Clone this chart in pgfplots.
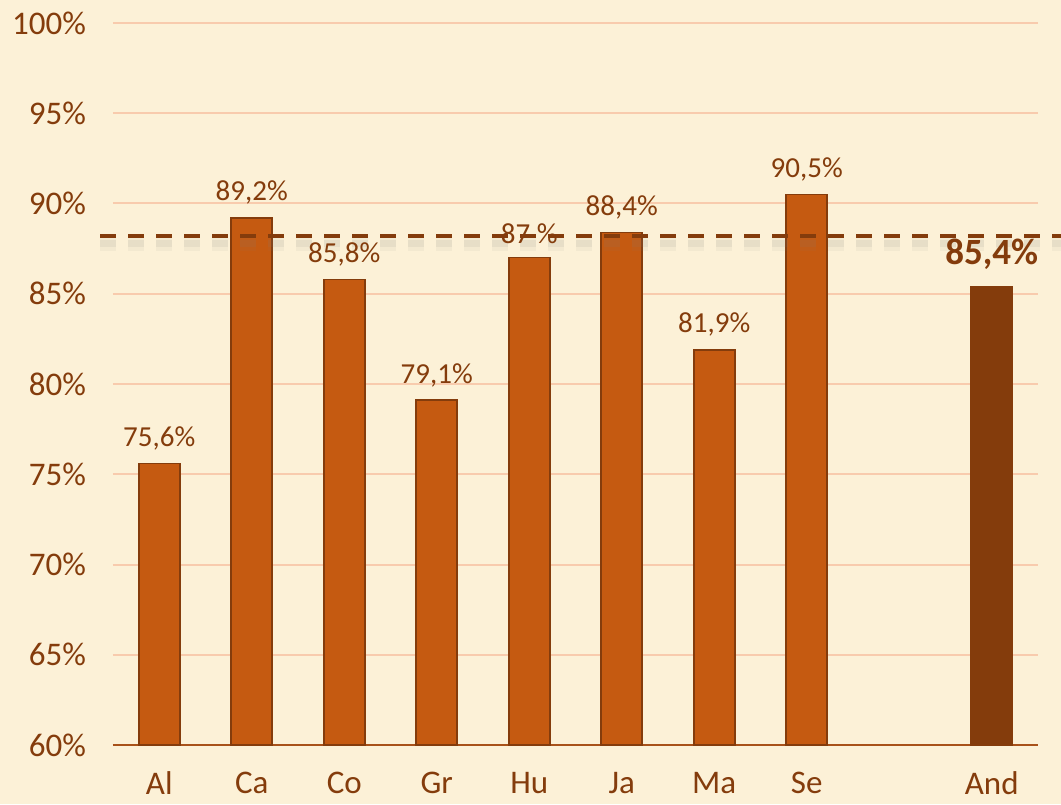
\documentclass[border=0pt]{standalone}
\usepackage{pgfplots}
\pgfplotsset{compat=1.18}
\usepackage{fontspec}
\setmainfont{Carlito}
\usetikzlibrary{backgrounds}
\definecolor{barc}{HTML}{C55A11}
\definecolor{bard}{HTML}{843C0C}
\definecolor{gridc}{HTML}{F8CBAD}
\definecolor{bgc}{HTML}{FCF1D7}
\definecolor{txt}{HTML}{843C0C}
\definecolor{axc}{HTML}{A8521A}
\begin{document}
\begin{tikzpicture}
\begin{axis}[
  scale only axis, width=462.5pt, height=361pt,
  clip=false,
  xmin=-0.5, xmax=9.5, ymin=0, ymax=40,
  y filter/.expression={y-60},
  ytick={0,5,10,15,20,25,30,35,40},
  yticklabels={60\%,65\%,70\%,75\%,80\%,85\%,90\%,95\%,100\%},
  xtick={0,1,2,3,4,5,6,7,9},
  xticklabels={Al,Ca,Co,Gr,Hu,Ja,Ma,Se,And},
  major tick length=0pt,
  ymajorgrids, grid style={gridc, line width=1pt},
  axis y line*=left, y axis line style={draw=none},
  axis x line*=bottom,
  x axis line style={axc, line width=1pt, -},
  tick label style={txt, font=\fontsize{16.5}{19}\selectfont},
  yticklabel style={xshift=-10pt},
  xticklabel style={yshift=-10pt},
  ybar, bar width=20.5pt,
  nodes near coords, point meta=explicit symbolic,
  nodes near coords style={txt, anchor=south, yshift=3pt, font=\fontsize{14.5}{17}\selectfont},
]
\addplot[bar shift=0pt, fill=barc, draw=bard, line width=0.8pt] coordinates {
 (0,75.6) [75,6\%] (1,89.2) [89,2\%] (2,85.8) [85,8\%] (3,79.1) [79,1\%]
 (4,87.0) [87 \%] (5,88.4) [88,4\%] (6,81.9) [81,9\%] (7,90.5) [90,5\%]};
\addplot[bar shift=0pt, fill=bard, draw=bard, line width=0.8pt,
  nodes near coords style={txt, anchor=south, yshift=2pt, font=\fontsize{18.5}{22}\selectfont\bfseries}] coordinates {
 (9,85.4) [85,4\%]};
\addplot[sharp plot, no marks, nodes near coords=, draw=gray, opacity=0.07, line width=7pt, dash pattern=on 8pt off 6pt, yshift=-4pt] coordinates {(-0.64,88.2) (9.75,88.2)};
\addplot[sharp plot, no marks, nodes near coords=, draw=gray, opacity=0.1, line width=3.5pt, dash pattern=on 8pt off 6pt, yshift=-4pt] coordinates {(-0.64,88.2) (9.75,88.2)};
\addplot[sharp plot, no marks, nodes near coords=, draw=bard, line width=2.2pt, dash pattern=on 8pt off 6pt] coordinates {(-0.64,88.2) (9.75,88.2)};
\coordinate (BL) at (axis cs:-1.7216,-3.269);
\coordinate (TR) at (axis cs:9.7486,41.274);
\end{axis}
\begin{scope}[on background layer]
\fill[bgc] (BL) rectangle (TR);
\end{scope}
\pgfresetboundingbox
\useasboundingbox (BL) rectangle (TR);
\end{tikzpicture}
\end{document}
